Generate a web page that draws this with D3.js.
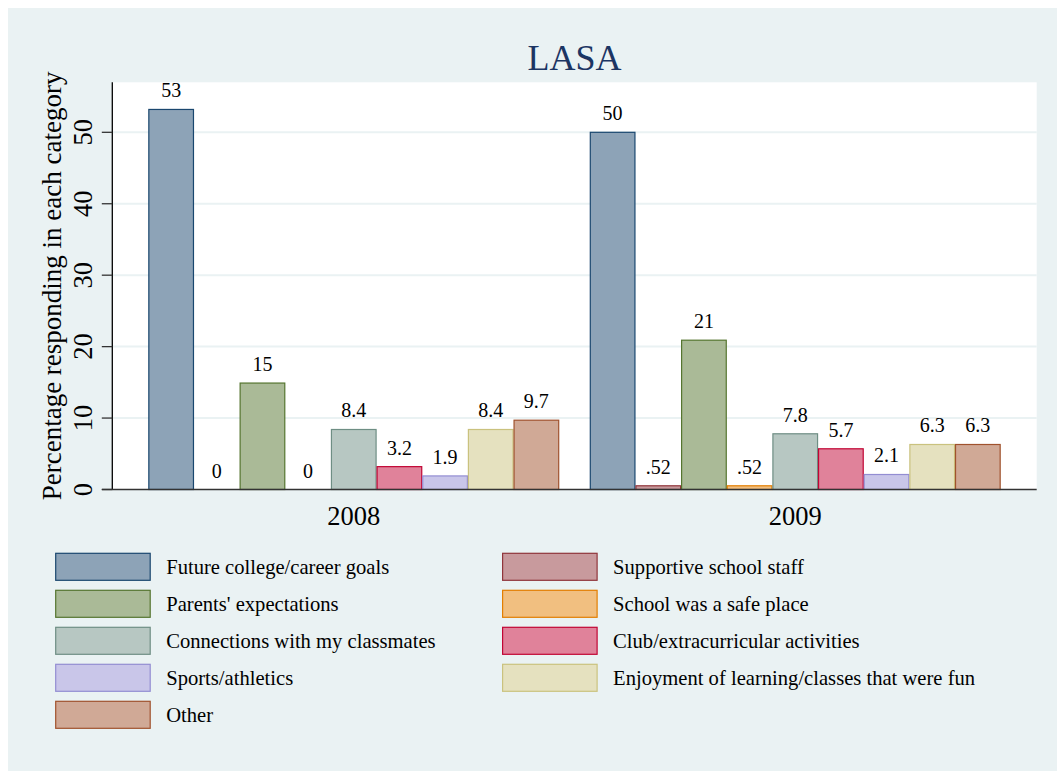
<!DOCTYPE html>
<html>
<head>
<meta charset="utf-8">
<script src="https://cdn.jsdelivr.net/npm/d3@7"></script>
<style>
  html, body { margin: 0; padding: 0; background: #ffffff; }
  svg { display: block; font-family: "Liberation Serif", "Times New Roman", serif; }
</style>
</head>
<body>
<div id="chart"></div>
<script>
// データ
const years = ["2008", "2009"];
const seriesNames = [
    "Future college/career goals",
    "Supportive school staff",
    "Parents' expectations",
    "School was a safe place",
    "Connections with my classmates",
    "Club/extracurricular activities",
    "Sports/athletics",
    "Enjoyment of learning/classes that were fun",
    "Other"
];
const values2008 = [53.2, 0, 14.9, 0, 8.4, 3.2, 1.9, 8.4, 9.7];
const values2009 = [50.0, 0.52, 20.9, 0.52, 7.8, 5.7, 2.1, 6.3, 6.3];
const yTicks = [0, 10, 20, 30, 40, 50];

// Stata s2color の線色 (塗りは50%の濃さ)
const lineColors = ["#1a476f", "#90353b", "#55752f", "#e37e00", "#6e8e84",
                    "#c10534", "#938dd2", "#cac27e", "#a0522d"];
const fillColors = lineColors.map(c => d3.interpolateRgb(c, "#ffffff")(0.5));

const W = 1057, H = 771;
const plot = { left: 112.3, right: 1036.7, top: 82.3, bottom: 489.5 };

const svg = d3.select("#chart").append("svg")
    .attr("width", W)
    .attr("height", H);

// 背景
svg.append("rect")
    .attr("x", 8).attr("y", 8)
    .attr("width", W - 8).attr("height", H - 8)
    .attr("fill", "#eaf2f3");

svg.append("rect")
    .attr("x", plot.left).attr("y", plot.top)
    .attr("width", plot.right - plot.left)
    .attr("height", plot.bottom - plot.top)
    .attr("fill", "#ffffff");

// スケール
const y = d3.scaleLinear().domain([0, 57]).range([plot.bottom, plot.top]);
const x0 = d3.scaleBand().domain(years)
    .range([plot.left, plot.right])
    .paddingInner(0.0693)
    .paddingOuter(0.0816);
const x1 = d3.scaleBand().domain(d3.range(seriesNames.length))
    .range([0, x0.bandwidth()])
    .padding(0);

// グリッド線
svg.append("g").selectAll("line")
    .data(yTicks.filter(t => t > 0))
    .enter().append("line")
    .attr("x1", plot.left).attr("x2", plot.right)
    .attr("y1", d => y(d)).attr("y2", d => y(d))
    .attr("stroke", "#eaf2f3")
    .attr("stroke-width", 2);

// 棒
const rows = [values2008, values2009];
const fmt = v => d3.format(".2~g")(v).replace(/^0\./, ".");

const groups = svg.append("g").selectAll("g")
    .data(years)
    .enter().append("g")
    .attr("transform", d => "translate(" + x0(d) + ",0)");

groups.selectAll("rect")
    .data((d, i) => rows[i].map((v, k) => ({ k: k, v: v })))
    .enter().append("rect")
    .filter(d => d.v > 0)
    .attr("x", d => x1(d.k) + 0.5)
    .attr("width", x1.bandwidth() - 1)
    .attr("y", d => y(d.v))
    .attr("height", d => y(0) - y(d.v))
    .attr("fill", d => fillColors[d.k])
    .attr("stroke", d => lineColors[d.k])
    .attr("stroke-width", 1.2);

groups.selectAll("text")
    .data((d, i) => rows[i].map((v, k) => ({ k: k, v: v })))
    .enter().append("text")
    .attr("x", d => x1(d.k) + x1.bandwidth() / 2)
    .attr("y", d => y(d.v) - 12)
    .attr("text-anchor", "middle")
    .attr("font-size", 20)
    .attr("fill", "#000")
    .text(d => fmt(d.v));

// Y軸
const yAxis = svg.append("g");
yAxis.append("line")
    .attr("x1", plot.left).attr("x2", plot.left)
    .attr("y1", plot.top).attr("y2", plot.bottom)
    .attr("stroke", "#000").attr("stroke-width", 1.3);
yAxis.selectAll(".tick")
    .data(yTicks)
    .enter().append("line")
    .attr("x1", plot.left - 10.5).attr("x2", plot.left)
    .attr("y1", d => y(d)).attr("y2", d => y(d))
    .attr("stroke", "#333").attr("stroke-width", 1.3);
yAxis.selectAll("text")
    .data(yTicks)
    .enter().append("text")
    .attr("transform", d => "translate(91.5," + y(d) + ") rotate(-90)")
    .attr("text-anchor", "middle")
    .attr("font-size", 26.5)
    .text(d => d);

svg.append("text")
    .attr("transform", "translate(61," + ((plot.top + plot.bottom) / 2) + ") rotate(-90)")
    .attr("text-anchor", "middle")
    .attr("font-size", 27)
    .text("Percentage responding in each category");

// X軸
svg.append("line")
    .attr("x1", plot.left - 10.5).attr("x2", plot.right)
    .attr("y1", plot.bottom).attr("y2", plot.bottom)
    .attr("stroke", "#333").attr("stroke-width", 1.5);

svg.append("g").selectAll("text")
    .data(years)
    .enter().append("text")
    .attr("x", d => x0(d) + x0.bandwidth() / 2)
    .attr("y", 525)
    .attr("text-anchor", "middle")
    .attr("font-size", 26.5)
    .text(d => d);

// タイトル
svg.append("text")
    .attr("x", (plot.left + plot.right) / 2)
    .attr("y", 70)
    .attr("text-anchor", "middle")
    .attr("font-size", 36)
    .attr("fill", "#1c3563")
    .text("LASA");

// 凡例 (2列、行優先)
const legColX = [55.7, 502.6];
const legRowY = 553.3, legStep = 37;
const legend = svg.append("g").selectAll("g")
    .data(seriesNames)
    .enter().append("g")
    .attr("transform", (d, i) => "translate(" + legColX[i % 2] + "," + (legRowY + Math.floor(i / 2) * legStep) + ")");

legend.append("rect")
    .attr("width", 94.5).attr("height", 27)
    .attr("fill", (d, i) => fillColors[i])
    .attr("stroke", (d, i) => lineColors[i])
    .attr("stroke-width", 1.2);

legend.append("text")
    .attr("x", 110.5)
    .attr("y", 21)
    .attr("font-size", 20.6)
    .text(d => d);
</script>
</body>
</html>
